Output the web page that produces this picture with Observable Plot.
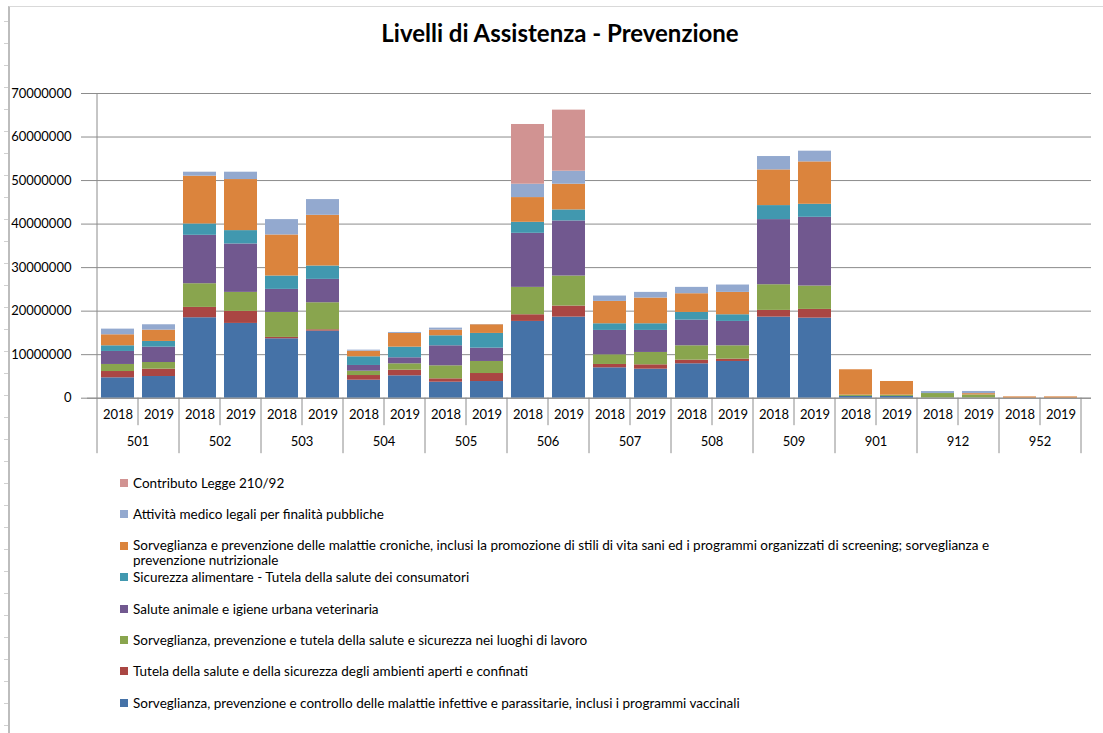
<!DOCTYPE html>
<html>
<head>
<meta charset="utf-8">
<script src="https://cdn.jsdelivr.net/npm/d3@7"></script>
<script src="https://cdn.jsdelivr.net/npm/@observablehq/plot@0.6"></script>
<style>
  body { margin: 0; background: #fff; font-family: Lato, "Open Sans", sans-serif; color: #000; }
  #frame { position: relative; width: 1103px; height: 733px; overflow: hidden; }
  #edge { position: absolute; left: 8px; top: 6px; width: 1100px; height: 740px; border-left: 2px solid #bdbdbd; border-top: 1px solid #d9d9d9; }
  #ticks { position: absolute; left: 4px; top: 0; width: 4px; height: 733px;
           background: repeating-linear-gradient(to bottom, transparent 0 21px, #d0d0d0 21px 22px); }
  #title { position: absolute; left: 0; top: 18px; width: 1120px; text-align: center; font-weight: bold; font-size: 24px; }
  #chart { position: absolute; left: 0; top: 60px; }
  #legend { position: absolute; left: 120px; top: 474px; font-size: 13.5px; }
  .item { position: relative; height: 31.4px; }
  .sw { position: absolute; left: 0; top: 5px; width: 8px; height: 8px; }
  .lab { position: absolute; left: 13px; top: 0; width: 900px; line-height: 18px; }
  .item:nth-child(3) .lab { line-height: 15px; top: 1px; }
</style>
</head>
<body>
<div id="frame">
  <div id="edge"></div>
  <div id="ticks"></div>
  <div id="title">Livelli di Assistenza - Prevenzione</div>
  <div id="chart"></div>
  <div id="legend"></div>
</div>
<script>
const groups = ["501", "502", "503", "504", "505", "506", "507", "508", "509", "901", "912", "952"];
const years = ["2018", "2019"];

const seriesNames = [
  "Sorveglianza, prevenzione e controllo delle malattie infettive e parassitarie, inclusi i programmi vaccinali",
  "Tutela della salute e della sicurezza degli ambienti aperti e confinati",
  "Sorveglianza, prevenzione e tutela della salute e sicurezza nei luoghi di lavoro",
  "Salute animale e igiene urbana veterinaria",
  "Sicurezza alimentare - Tutela della salute dei consumatori",
  "Sorveglianza e prevenzione delle malattie croniche, inclusi la promozione di stili di vita sani ed i programmi organizzati di screening; sorveglianza e prevenzione nutrizionale",
  "Attività medico legali per finalità pubbliche",
  "Contributo Legge 210/92"
];
const seriesColors = ["#4572A7", "#AA4643", "#89A54E", "#71588F", "#4198AF", "#DB843D", "#93A9CF", "#D19392"];

// values per bar, order: 501-2018, 501-2019, 502-2018, ... 952-2019
const infettive   = [4680000, 4980000, 18480000, 17180000, 13650000, 15410000, 4140000, 5140000, 3680000, 3830000, 17640000, 18630000, 6980000, 6670000, 7900000, 8440000, 18630000, 18400000, 400000, 400000, 50000, 50000, 0, 0];
const ambienti    = [1450000, 1690000, 2380000, 2760000, 310000, 310000, 1070000, 1300000, 770000, 1840000, 1530000, 2540000, 770000, 1000000, 840000, 530000, 1540000, 2000000, 0, 0, 0, 0, 0, 0];
const lavoro      = [1620000, 1530000, 5440000, 4370000, 5750000, 6210000, 1000000, 1460000, 2990000, 2770000, 6290000, 6900000, 2220000, 2840000, 3300000, 3070000, 5900000, 5370000, 300000, 300000, 1020000, 700000, 0, 0];
const animale     = [2990000, 3530000, 11120000, 11120000, 5290000, 5370000, 1310000, 1380000, 4600000, 3060000, 12420000, 12650000, 5600000, 5060000, 5900000, 5600000, 14960000, 15790000, 0, 0, 0, 0, 0, 0];
const alimentare  = [1300000, 1310000, 2610000, 3070000, 3070000, 3070000, 1990000, 2450000, 2300000, 3380000, 2530000, 2530000, 1530000, 1530000, 1770000, 1530000, 3220000, 2990000, 0, 0, 0, 0, 0, 0];
const croniche    = [2530000, 2600000, 10970000, 11730000, 9430000, 11650000, 1300000, 3150000, 1300000, 1990000, 5680000, 5910000, 5140000, 5910000, 4290000, 5140000, 8200000, 9740000, 5830000, 3140000, 0, 300000, 300000, 300000];
const medicoLegali= [1300000, 1230000, 920000, 1690000, 3530000, 3610000, 230000, 220000, 460000, 40000, 3070000, 2990000, 1230000, 1300000, 1460000, 1690000, 3070000, 2460000, 0, 0, 460000, 500000, 0, 0];
const legge210    = [0, 0, 0, 0, 0, 0, 0, 0, 0, 0, 13720000, 14030000, 0, 0, 0, 0, 0, 0, 0, 0, 0, 0, 0, 0];
const seriesValues = [infettive, ambienti, lavoro, animale, alimentare, croniche, medicoLegali, legge210];

const yTicks = [0, 10000000, 20000000, 30000000, 40000000, 50000000, 60000000, 70000000];

const keys = [];
groups.forEach(g => years.forEach(y => keys.push(g + "|" + y)));
const rows = [];
seriesNames.forEach((s, i) => keys.forEach((k, j) => {
  rows.push({key: k, group: k.split("|")[0], year: k.split("|")[1], series: s, value: seriesValues[i][j]});
}));

const gridColor = "#8c8c8c";
const chart = Plot.plot({
  width: 1103,
  height: 400,
  marginLeft: 87,
  marginRight: 12,
  marginTop: 33,
  marginBottom: 62.3,
  style: {fontFamily: "Lato, 'Open Sans', sans-serif", fontSize: "13px", color: "#000", background: "transparent"},
  x: {domain: keys, paddingInner: 0.2, paddingOuter: 0.1, axis: null},
  y: {domain: [0, 70000000], axis: null},
  color: {domain: seriesNames, range: seriesColors},
  marks: [
    Plot.ruleY(yTicks, {stroke: gridColor, strokeWidth: 1}),
    Plot.axisY(yTicks, {tickSize: 6, tickPadding: 10, tickFormat: d => String(d), label: null, stroke: gridColor, fontSize: 13, fill: "#000"}),
    Plot.barY(rows, {x: "key", y: "value", fill: "series", order: seriesNames}),
    Plot.ruleY([0], {stroke: gridColor, strokeWidth: 1}),
    Plot.text(rows.filter(d => d.series === seriesNames[0]), {x: "key", text: "year", frameAnchor: "bottom", dy: 21, fontSize: 13, fill: "#000"})
  ]
});
document.getElementById("chart").appendChild(chart);

// category separators and group labels positioned with Plot's x scale
const xs = chart.scale("x");
const ys = chart.scale("y");
const step = xs.apply(keys[1]) - xs.apply(keys[0]);
const bw = xs.bandwidth;
const half = (step - bw) / 2;
const y0 = ys.apply(0);
const yTop = ys.apply(70000000);
const svg = d3.select(chart);
const g = svg.append("g").attr("stroke", gridColor).attr("stroke-width", 1);
const left = xs.apply(keys[0]) - half;
g.append("line").attr("x1", left).attr("x2", left).attr("y1", yTop).attr("y2", y0 + 55.5);
keys.forEach((k, j) => {
  const xb = xs.apply(k) + bw + half;
  const isGroupEnd = j % 2 === 1;
  g.append("line").attr("x1", xb).attr("x2", xb).attr("y1", y0).attr("y2", y0 + (isGroupEnd ? 55.5 : 27.5));
});
groups.forEach(gr => {
  const a = xs.apply(gr + "|2018") - half;
  const b = xs.apply(gr + "|2019") + bw + half;
  svg.append("text").attr("x", (a + b) / 2).attr("y", y0 + 48).attr("text-anchor", "middle")
    .attr("font-size", 13).attr("fill", "#000").text(gr);
});

// legend (top to bottom: last series first)
const legend = d3.select("#legend");
seriesNames.slice().reverse().forEach((s, i) => {
  const color = seriesColors[seriesNames.indexOf(s)];
  const it = legend.append("div").attr("class", "item");
  it.append("div").attr("class", "sw").style("background", color);
  it.append("div").attr("class", "lab").text(s);
});
</script>
</body>
</html>
